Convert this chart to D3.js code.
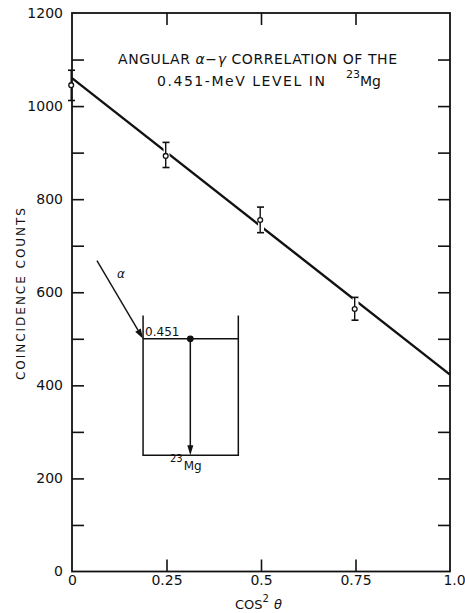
<!DOCTYPE html>
<html>
<head>
<meta charset="utf-8">
<script src="https://cdn.jsdelivr.net/npm/d3@7"></script>
<style>
  body { margin: 0; background: #fff; }
  svg { display: block; }
  text { font-family: "DejaVu Sans", sans-serif; fill: #111; }
</style>
</head>
<body>
<figure id="chart" style="margin:0"></figure>
<script>
// measured points (cos^2 theta vs coincidence counts)
const cosSq = [0, 0.25, 0.5, 0.75];
const counts = [1045, 893, 755, 564];
const errLow = [1012, 868, 728, 540];
const errHigh = [1077, 922, 783, 589];

// fitted straight line
const fitX = [0, 1.0];
const fitY = [1060, 423];

const xTicks = [0, 0.25, 0.5, 0.75, 1.0];
const xTickLabels = ["0", "0.25", "0.5", "0.75", "1.0"];
const yLabelTicks = [0, 200, 400, 600, 800, 1000, 1200];
const yMinorTicks = [100, 200, 300, 400, 500, 600, 700, 800, 900, 1000, 1100];

// level-scheme inset, in data units
const insetBox = { left: 0.188, right: 0.440, top: 550, level: 500, ground: 250 };
const gammaX = 0.313;
const alphaStart = [0.066, 668];

const W = 465, H = 613;
const margin = { top: 13, right: 15, bottom: 41.5, left: 72 };

const svg = d3.select('#chart').append('svg')
  .attr('width', W).attr('height', H);

const x = d3.scaleLinear().domain([0, 1]).range([margin.left, W - margin.right]);
const y = d3.scaleLinear().domain([0, 1200]).range([H - margin.bottom, margin.top]);

// frame
svg.append('rect')
  .attr('x', x(0)).attr('y', y(1200))
  .attr('width', x(1) - x(0)).attr('height', y(0) - y(1200))
  .attr('fill', 'none').attr('stroke', '#111').attr('stroke-width', 1.8);

// inward ticks on all four sides
const tickLen = 12;
const inner = [0.25, 0.5, 0.75];
function frameAxis(axis, transform) {
  const g = svg.append('g').attr('transform', transform).call(axis);
  g.select('.domain').remove();
  g.selectAll('line').attr('stroke', '#111').attr('stroke-width', 1.6);
  g.selectAll('text').remove();
}
frameAxis(d3.axisBottom(x).tickValues(inner).tickSize(-tickLen), `translate(0,${y(0)})`);
frameAxis(d3.axisTop(x).tickValues(inner).tickSize(-tickLen), `translate(0,${y(1200)})`);
frameAxis(d3.axisLeft(y).tickValues(yMinorTicks).tickSize(-tickLen), `translate(${x(0)},0)`);
frameAxis(d3.axisRight(y).tickValues(yMinorTicks).tickSize(-tickLen), `translate(${x(1)},0)`);

// tick labels
const yl = svg.append('g').attr('transform', `translate(${x(0)},0)`)
  .call(d3.axisLeft(y).tickValues(yLabelTicks).tickSize(0).tickPadding(9).tickFormat(d3.format('d')));
yl.select('.domain').remove();
yl.selectAll('text').attr('font-size', 14).attr('font-family', '"DejaVu Sans", sans-serif').attr('fill', '#111');

const xl = svg.append('g').attr('transform', `translate(0,${y(0)})`)
  .call(d3.axisBottom(x).tickValues(xTicks).tickSize(0).tickPadding(4)
    .tickFormat((d, i) => xTickLabels[i]));
xl.select('.domain').remove();
xl.selectAll('text').attr('font-size', 14).attr('font-family', '"DejaVu Sans", sans-serif').attr('fill', '#111');
xl.selectAll('.tick').filter(d => d === 1).select('text').attr('dx', 4);

// axis titles
const xt = svg.append('text').attr('x', 235).attr('y', 609).attr('font-size', 13);
xt.append('tspan').text('COS');
xt.append('tspan').attr('dy', -7).attr('font-size', 10).text('2');
xt.append('tspan').attr('dy', 7).attr('dx', 5).attr('font-style', 'italic').text('θ');

svg.append('text')
  .attr('transform', 'translate(25,294) rotate(-90)')
  .attr('text-anchor', 'middle')
  .attr('font-size', 12)
  .attr('textLength', 172).attr('lengthAdjust', 'spacing')
  .text('COINCIDENCE   COUNTS');

// title
svg.append('text').attr('x', 118).attr('y', 63.5).attr('font-size', 14)
  .attr('textLength', 279).attr('lengthAdjust', 'spacing')
  .html('ANGULAR <tspan font-style="italic">α</tspan>−<tspan font-style="italic">γ</tspan> CORRELATION  OF  THE');
svg.append('text').attr('x', 157).attr('y', 85.5).attr('font-size', 14)
  .attr('textLength', 168).attr('lengthAdjust', 'spacing')
  .text('0.451-MeV  LEVEL  IN');
const mg = svg.append('text').attr('x', 346).attr('y', 85.5).attr('font-size', 14);
mg.append('tspan').attr('dy', -8).attr('font-size', 11).text('23');
mg.append('tspan').attr('dy', 8).text('Mg');

// fitted line
const line = d3.line().x(d => x(d[0])).y(d => y(d[1]));
svg.append('path')
  .datum(fitX.map((v, i) => [v, fitY[i]]))
  .attr('d', line)
  .attr('fill', 'none').attr('stroke', '#111').attr('stroke-width', 2.4);

// error bars, with white halo breaking the fit line
const pts = cosSq.map((v, i) => ({ x: v, y: counts[i], lo: errLow[i], hi: errHigh[i] }));
const eb = svg.append('g').selectAll('g').data(pts).join('g');
eb.append('line')
  .attr('x1', d => x(d.x)).attr('x2', d => x(d.x))
  .attr('y1', d => y(d.hi)).attr('y2', d => y(d.lo))
  .attr('stroke', '#fff').attr('stroke-width', d => d.x === 0 ? 0 : 6);
eb.append('line')
  .attr('x1', d => x(d.x) - 0.8).attr('x2', d => x(d.x) - 0.8)
  .attr('y1', d => y(d.hi)).attr('y2', d => y(d.lo))
  .attr('stroke', '#111').attr('stroke-width', 1.4);
eb.selectAll('.cap').data(d => [d.hi, d.lo].map(v => ({ x: d.x, v })))
  .join('line')
  .attr('x1', d => x(d.x) - 4).attr('x2', d => x(d.x) + 3)
  .attr('y1', d => y(d.v)).attr('y2', d => y(d.v))
  .attr('stroke', '#111').attr('stroke-width', 1.6);
eb.append('circle')
  .attr('cx', d => x(d.x) - 0.8).attr('cy', d => y(d.y)).attr('r', 2.4)
  .attr('fill', '#fff').attr('stroke', '#111').attr('stroke-width', 1.3);

// inset level scheme
const inset = svg.append('g').attr('stroke', '#111').attr('fill', 'none').attr('stroke-width', 1.5);
inset.append('path').attr('d', d3.line()([
  [x(insetBox.left), y(insetBox.top)], [x(insetBox.left), y(insetBox.ground)],
  [x(insetBox.right), y(insetBox.ground)], [x(insetBox.right), y(insetBox.top)]
]));
inset.append('line')
  .attr('x1', x(insetBox.left)).attr('x2', x(insetBox.right))
  .attr('y1', y(insetBox.level)).attr('y2', y(insetBox.level));
// gamma transition
inset.append('line')
  .attr('x1', x(gammaX)).attr('x2', x(gammaX))
  .attr('y1', y(insetBox.level)).attr('y2', y(insetBox.ground) - 8);
svg.append('path')
  .attr('d', `M${x(gammaX) - 3},${y(insetBox.ground) - 10} L${x(gammaX) + 3},${y(insetBox.ground) - 10} L${x(gammaX)},${y(insetBox.ground)} Z`)
  .attr('fill', '#111');
svg.append('circle').attr('cx', x(gammaX)).attr('cy', y(insetBox.level)).attr('r', 3.4).attr('fill', '#111');

// alpha arrow
const ax0 = x(alphaStart[0]), ay0 = y(alphaStart[1]);
const ax1 = x(insetBox.left), ay1 = y(insetBox.level);
const ang = Math.atan2(ay1 - ay0, ax1 - ax0);
const hl = 10, hw = 3.2;
const bx = ax1 - hl * Math.cos(ang), by = ay1 - hl * Math.sin(ang);
inset.append('line').attr('x1', ax0).attr('y1', ay0).attr('x2', bx).attr('y2', by).attr('stroke-width', 1.4);
svg.append('path')
  .attr('d', `M${ax1},${ay1} L${bx + hw * Math.sin(ang)},${by - hw * Math.cos(ang)} L${bx - hw * Math.sin(ang)},${by + hw * Math.cos(ang)} Z`)
  .attr('fill', '#111');
svg.append('text').attr('x', x(0.119)).attr('y', y(631)).attr('font-size', 12)
  .attr('font-style', 'italic').text('α');

svg.append('text').attr('x', x(insetBox.left) + 2).attr('y', y(insetBox.level) - 3)
  .attr('font-size', 12).text('0.451');
const mg2 = svg.append('text').attr('x', 170).attr('y', 470).attr('font-size', 12);
mg2.append('tspan').attr('dy', -8).attr('font-size', 10).text('23');
mg2.append('tspan').attr('dy', 8).attr('dx', 1).text('Mg');
</script>
</body>
</html>
